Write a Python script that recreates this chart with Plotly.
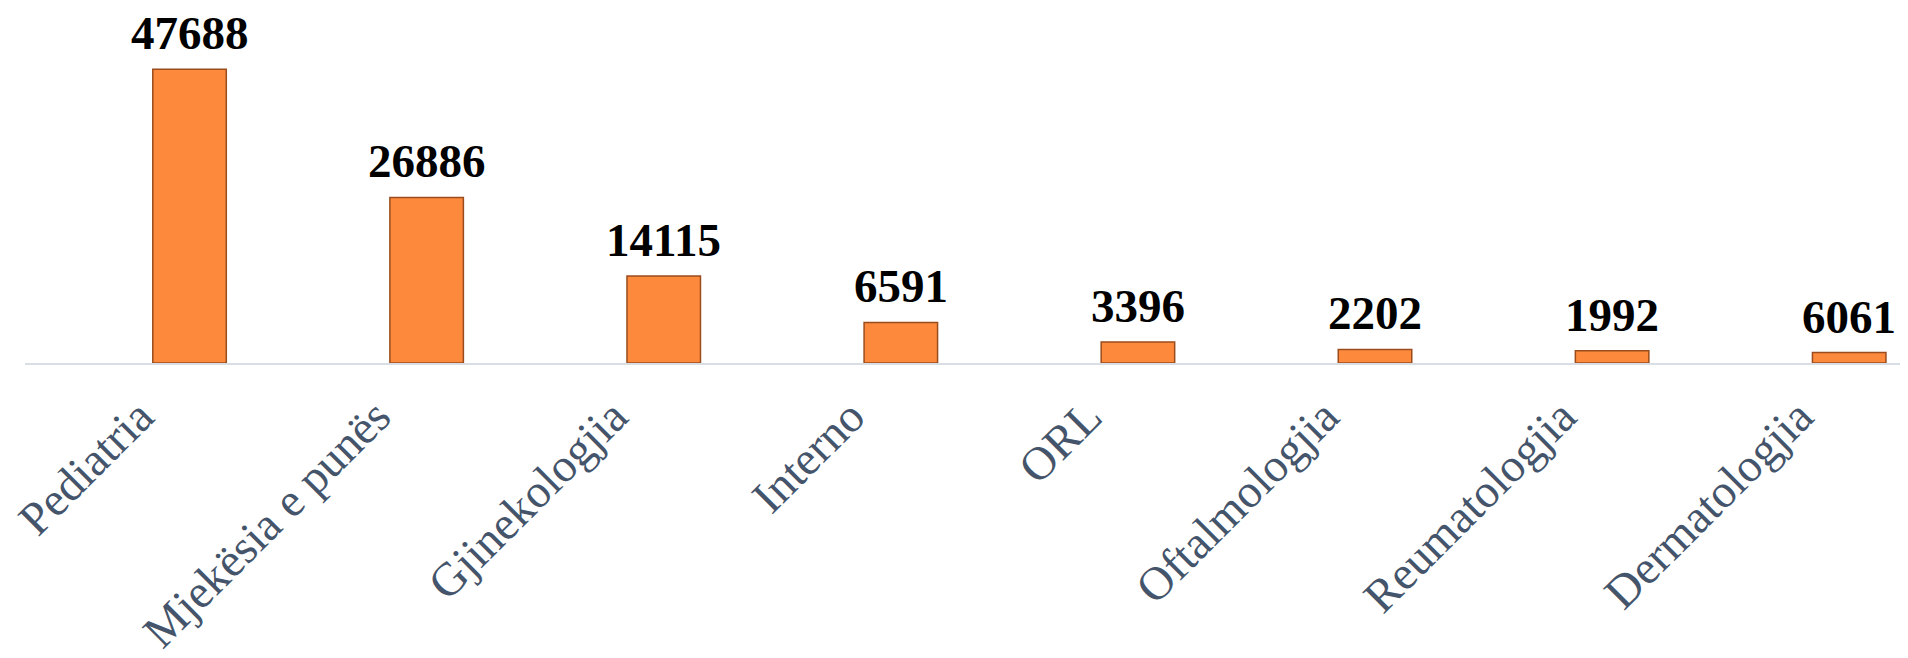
import plotly.graph_objects as go

categories = ["Pediatria", "Mjekësia e punës", "Gjinekologjia", "Interno", "ORL",
              "Oftalmologjia", "Reumatologjia", "Dermatologjia"]
bar_values = [47688, 26886, 14115, 6591, 3396, 2202, 1992, 1700]
value_labels = ["47688", "26886", "14115", "6591", "3396", "2202", "1992", "6061"]

fig = go.Figure()
fig.add_trace(go.Bar(
    x=categories,
    y=bar_values,
    width=0.31,
    marker=dict(color="#FD8A3C", line=dict(color="#9A4C1C", width=1.5)),
    hoverinfo="x+y",
    showlegend=False,
))

for c, v, t in zip(categories, bar_values, value_labels):
    fig.add_annotation(
        x=c, y=v, text=f"<b>{t}</b>", showarrow=False,
        xanchor="center", yanchor="bottom", yshift=8,
        font=dict(family="Liberation Serif", size=47, color="#000000"),
    )

fig.update_layout(
    width=1900, height=650, autosize=False,
    margin=dict(l=17, r=0, t=0, b=295, pad=0),
    paper_bgcolor="white", plot_bgcolor="white",
    xaxis=dict(
        type="category",
        range=[-0.694, 7.248],
        showline=True, linecolor="#D9DEE5", linewidth=2,
        ticks="", showgrid=False, zeroline=False,
        tickangle=-45,
        ticklabelshift=-50,
        ticklabelstandoff=5,
        tickfont=dict(family="Liberation Serif", size=47, color="#44546A"),
        automargin=False,
    ),
    yaxis=dict(
        range=[0, 57640], visible=False, showgrid=False, zeroline=False,
    ),
)

fig.write_html("out.html")
